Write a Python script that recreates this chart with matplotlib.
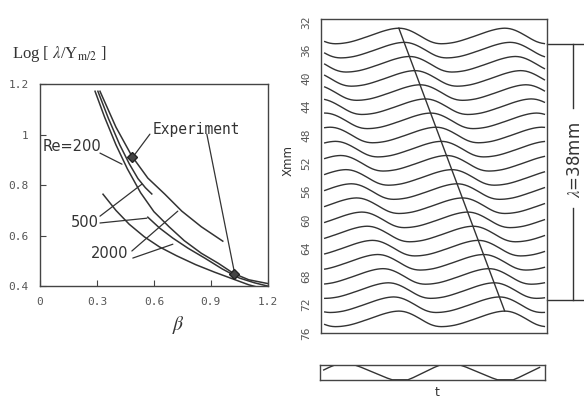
import numpy as np
import matplotlib
matplotlib.use("Agg")
import matplotlib.pyplot as plt
from matplotlib.transforms import blended_transform_factory

plt.rcParams["mathtext.fontset"] = "stix"

# ---------------- left panel data: log(lambda / Y_m/2) vs beta ----------------
curve_A_beta = [0.316, 0.40, 0.484, 0.568, 0.658, 0.747, 0.85, 0.963]
curve_A_log = [1.172, 1.03, 0.915, 0.828, 0.764, 0.697, 0.635, 0.578]

curve_C_beta = [0.29, 0.34, 0.40, 0.46, 0.53, 0.60, 0.68, 0.76, 0.85, 0.94, 1.02, 1.10, 1.20]
curve_C_log = [1.172, 1.07, 0.96, 0.865, 0.77, 0.695, 0.635, 0.58, 0.53, 0.49, 0.45, 0.425, 0.41]

curve_D_beta = [0.305, 0.36, 0.42, 0.47, 0.516, 0.555, 0.589]
curve_D_log = [1.172, 1.065, 0.96, 0.885, 0.826, 0.79, 0.765]

curve_B_beta = [0.568, 0.63, 0.70, 0.78, 0.87, 0.96, 1.05, 1.13, 1.20]
curve_B_log = [0.673, 0.63, 0.59, 0.55, 0.51, 0.468, 0.432, 0.413, 0.40]

curve_E_beta = [0.332, 0.40, 0.47, 0.55, 0.63, 0.72, 0.82, 0.92, 1.01, 1.10, 1.15]
curve_E_log = [0.764, 0.70, 0.645, 0.595, 0.555, 0.52, 0.485, 0.455, 0.43, 0.405, 0.395]

exp_beta = [0.487, 1.022]
exp_log = [0.912, 0.448]

x_ticks = [0, 0.3, 0.6, 0.9, 1.2]
x_ticklabels = ["0", "0.3", "0.6", "0.9", "1.2"]
y_ticks = [0.4, 0.6, 0.8, 1.0, 1.2]
y_ticklabels = ["0.4", "0.6", "0.8", "1", "1.2"]

# ---------------- right panel data: wave traces at stations X (mm) ----------------
station_X = [34, 36, 38, 40, 42, 44, 46, 48, 50, 52, 54,
             56, 58, 60, 62, 64, 66, 68, 70, 72, 74]
peak_t = [14, 15, 16, 17, 18, 19, 20, 21, 22, 23, 24,
          25, 26, 27, 28, 29, 30, 31, 32, 33, 34]
# one period of the measured wave form (40 samples, half a time unit apart), starting at a crest
wave_shape = [1.0, 0.98, 0.93, 0.84, 0.72, 0.57, 0.40, 0.21, 0.02, -0.18,
              -0.38, -0.56, -0.72, -0.84, -0.93, -0.98, -1.0, -0.99, -0.97, -0.93,
              -0.88, -0.82, -0.74, -0.65, -0.55, -0.44, -0.33, -0.21, -0.10, 0.02,
              0.14, 0.26, 0.38, 0.50, 0.61, 0.71, 0.80, 0.88, 0.94, 0.98]
wave_amp_mm = 1.1
t_samples = np.arange(84) * 0.5

# reference signal (20 samples per period, one time unit apart)
ref_shape = [1.0, 1.0, 1.0, 1.0, 0.75, 0.45, 0.15, -0.15, -0.45, -0.75,
             -1.0, -1.0, -1.0, -1.0, -0.7, -0.35, 0.0, 0.35, 0.7, 1.0]
ref_start = 3
ref_t = np.arange(42)

x_ticks_right = [32, 36, 40, 44, 48, 52, 56, 60, 64, 68, 72, 76]

# ---------------- figure ----------------
ink = "#333333"
grey = "#555555"
fig = plt.figure(figsize=(5.84, 3.99), dpi=100)

# left panel
ax1 = fig.add_axes([0.0685, 0.283, 0.390, 0.506])
for b, l in [(curve_A_beta, curve_A_log), (curve_C_beta, curve_C_log),
             (curve_D_beta, curve_D_log), (curve_B_beta, curve_B_log),
             (curve_E_beta, curve_E_log)]:
    ax1.plot(b, l, color=ink, lw=1.1)
ax1.plot(exp_beta, exp_log, "D", ms=5, color="#444444", mec="#222222", zorder=5)
ax1.set_xlim(0, 1.2)
ax1.set_ylim(0.4, 1.2)
ax1.set_xticks(x_ticks)
ax1.set_xticklabels(x_ticklabels)
ax1.set_yticks(y_ticks)
ax1.set_yticklabels(y_ticklabels)
ax1.tick_params(direction="in", length=4, width=0.8, color="#444444",
                labelcolor=grey, labelsize=8, pad=8)
for lab in ax1.get_xticklabels() + ax1.get_yticklabels():
    lab.set_family("DejaVu Sans Mono")
for s in ax1.spines.values():
    s.set_color("#444444")
    s.set_linewidth(1.0)

lead = dict(arrowstyle="-", color=ink, lw=0.9, shrinkA=0, shrinkB=0)
ax1.text(0.016, 0.954, "Re=200", ha="left", va="center", fontsize=10.5, color=ink)
ax1.annotate("", xy=(0.432, 0.883), xytext=(0.316, 0.927), arrowprops=lead)
ax1.text(0.237, 0.65, "500", ha="center", va="center", fontsize=10.5, color=ink)
ax1.annotate("", xy=(0.537, 0.804), xytext=(0.316, 0.677), arrowprops=lead)
ax1.annotate("", xy=(0.563, 0.669), xytext=(0.316, 0.65), arrowprops=lead)
ax1.text(0.368, 0.531, "2000", ha="center", va="center", fontsize=10.5, color=ink)
ax1.annotate("", xy=(0.726, 0.697), xytext=(0.484, 0.539), arrowprops=lead)
ax1.annotate("", xy=(0.70, 0.566), xytext=(0.489, 0.511), arrowprops=lead)
ax1.text(0.826, 1.022, "Experiment", ha="center", va="center", fontsize=10.5,
         family="DejaVu Sans Mono", color=ink)
ax1.annotate("", xy=(0.489, 0.911), xytext=(0.579, 1.002), arrowprops=lead)
ax1.annotate("", xy=(1.026, 0.448), xytext=(0.879, 1.002), arrowprops=lead)

fig.text(12 / 584, 1 - 54 / 399, r"Log [ $\lambda$/Y$_{\rm m/2}$ ]", ha="left",
         va="center", fontsize=12, family="Liberation Serif", color=ink)
fig.text(178 / 584, 1 - 325 / 399, r"$\beta$", ha="center", va="center",
         fontsize=14, color=ink)

# right panel
ax2 = fig.add_axes([0.5497, 0.1654, 0.387, 0.787])
n = len(wave_shape)
k = np.arange(len(t_samples))
shape_arr = np.array(wave_shape)
for X, pk in zip(station_X, peak_t):
    idx = (k - 2 * pk) % n
    y = X - wave_amp_mm * shape_arr[idx]
    ax2.plot(t_samples, y, color=ink, lw=1.0)
ax2.plot([peak_t[0], peak_t[-1]],
         [station_X[0] - wave_amp_mm * wave_shape[0],
          station_X[-1] - wave_amp_mm * wave_shape[0]], color=ink, lw=1.0)
ax2.set_xlim(-0.7, 42)
ax2.set_ylim(76.0, 31.6)
ax2.set_xticks([])
ax2.set_yticks(x_ticks_right)
ax2.tick_params(axis="y", length=0, pad=7, labelsize=8, labelcolor=grey,
                labelrotation=90)
for lab in ax2.get_yticklabels():
    lab.set_family("DejaVu Sans Mono")
    lab.set_va("center")
for s in ax2.spines.values():
    s.set_color("#444444")
    s.set_linewidth(1.0)
fig.text(288 / 584, 1 - 160 / 399, "Xmm", rotation=90, ha="center", va="center",
         fontsize=8.5, color=ink)

tr = blended_transform_factory(ax2.transAxes, ax2.transData)
for yv in (35.2, 71.3):
    ax2.plot([1.0, 1.16], [yv, yv], transform=tr, clip_on=False, color=ink, lw=1.0)
ax2.plot([1.115, 1.115], [35.2, 44.2], transform=tr, clip_on=False, color=ink, lw=1.0)
ax2.plot([1.115, 1.115], [58.3, 71.3], transform=tr, clip_on=False, color=ink, lw=1.0)
ax2.text(1.124, 51.5, r"$\lambda$=38mm", transform=tr, rotation=90, ha="center",
         va="center", fontsize=12, color=ink)

# bottom reference signal
ax3 = fig.add_axes([0.548, 0.0476, 0.385, 0.0376])
ref_idx = (ref_t - ref_start) % len(ref_shape)
ax3.plot(ref_t, np.array(ref_shape)[ref_idx], color=ink, lw=1.0)
ax3.set_xlim(-0.7, 42)
ax3.set_ylim(-1.03, 1.03)
ax3.set_xticks([])
ax3.set_yticks([])
for s in ax3.spines.values():
    s.set_color("#444444")
    s.set_linewidth(1.0)
fig.text(437 / 584, 1 - 393 / 399, "t", ha="center", va="center", fontsize=9,
         color=ink)

fig.savefig("out.png", dpi=100, facecolor="white")
